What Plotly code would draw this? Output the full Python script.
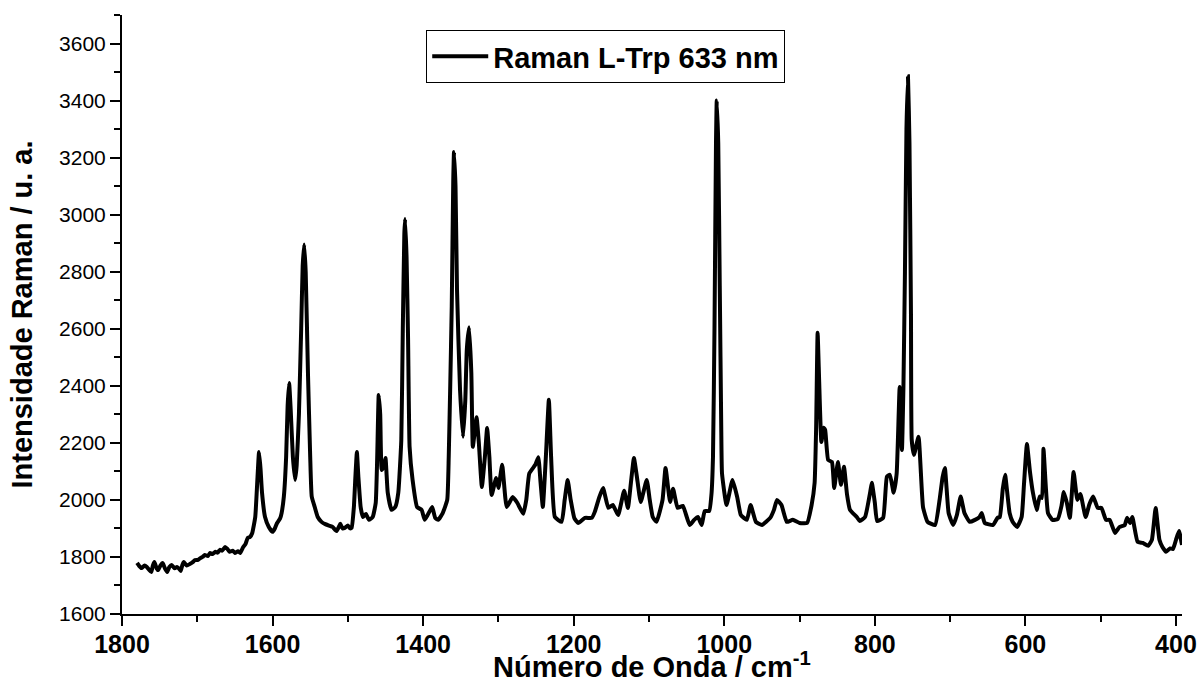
import plotly.graph_objects as go

# Raman shift (cm^-1)
wavenumber = [
    1780, 1777, 1774, 1770, 1767, 1764, 1761, 1759, 1757, 1754, 1752, 1749, 1746, 1743, 1740, 1737,
    1734, 1730, 1727, 1724, 1722, 1720, 1718, 1714, 1710, 1706, 1703, 1699, 1696, 1693, 1690, 1686,
    1683, 1680, 1676, 1673, 1670, 1667, 1663, 1660, 1657, 1653, 1650, 1646, 1643, 1639, 1636, 1633,
    1630, 1627, 1623, 1620, 1618, 1616, 1614, 1610, 1605, 1600, 1597, 1594, 1590, 1588, 1585, 1582,
    1580, 1578, 1576, 1573, 1570, 1568, 1565, 1562, 1560, 1558, 1556, 1553, 1550, 1548, 1544, 1540,
    1535, 1530, 1525, 1520, 1517, 1515, 1512, 1510, 1507, 1504, 1500, 1497, 1495, 1492, 1490, 1488,
    1486, 1483, 1480, 1476, 1472, 1467, 1463, 1461, 1459, 1457, 1455, 1452, 1450, 1447, 1442, 1437,
    1433, 1429, 1427, 1425, 1424, 1422, 1420, 1418, 1414, 1408, 1402, 1398, 1394, 1388, 1384, 1380,
    1374, 1368, 1366, 1364, 1362, 1360, 1359, 1357, 1355, 1351, 1347, 1344, 1342, 1339, 1336, 1334,
    1331, 1329, 1326, 1322, 1318, 1315, 1312, 1309, 1303, 1300, 1295, 1289, 1281, 1275, 1267, 1263,
    1259, 1251, 1247, 1244, 1241, 1237, 1233, 1230, 1225, 1216, 1212, 1208, 1204, 1199, 1194, 1185,
    1176, 1172, 1166, 1161, 1154, 1148, 1141, 1133, 1128, 1124, 1120, 1116, 1111, 1103, 1099, 1095,
    1090, 1082, 1078, 1072, 1068, 1062, 1055, 1046, 1040, 1035, 1030, 1026, 1020, 1017, 1015, 1013,
    1011, 1010, 1008, 1006, 1004, 1003, 997, 989, 983, 978, 970, 965, 958, 950, 939, 934,
    930, 924, 917, 909, 900, 890, 884, 880, 878, 876, 874, 871, 868, 866, 862, 857,
    854, 849, 845, 841, 837, 833, 824, 820, 813, 806, 804, 800, 797, 789, 784, 780,
    775, 771, 767, 764, 762, 760, 758, 756, 754, 752, 751, 748, 742, 736, 730, 720,
    714, 710, 707, 702, 696, 691, 686, 681, 674, 667, 661, 658, 654, 643, 637, 634,
    630, 627, 621, 617, 611, 605, 602, 598, 594, 590, 585, 581, 578, 576, 573, 570,
    564, 557, 552, 549, 545, 541, 536, 531, 527, 520, 515, 510, 504, 499, 493, 488,
    481, 475, 468, 465, 461, 458, 451, 444, 437, 432, 427, 422, 418, 413, 408, 404,
    400, 396, 392,
]

# Raman intensity (a.u.)
intensity = [
    1779, 1768, 1761, 1770, 1765, 1755, 1747, 1770, 1782, 1760, 1754, 1770, 1779, 1760, 1747, 1765,
    1772, 1760, 1765, 1758, 1751, 1770, 1782, 1770, 1775, 1782, 1789, 1790, 1796, 1800, 1807, 1803,
    1814, 1810, 1818, 1815, 1825, 1822, 1835, 1828, 1818, 1822, 1814, 1820, 1814, 1835, 1845, 1867,
    1870, 1884, 1940, 2080, 2168, 2110, 2025, 1940, 1905, 1888, 1900, 1919, 1935, 1954, 2012, 2150,
    2330, 2410, 2320, 2150, 2070, 2120, 2300, 2600, 2820, 2895, 2800, 2446, 2151, 2012, 1975, 1940,
    1923, 1915, 1910, 1905, 1895, 1891, 1905, 1916, 1900, 1902, 1910, 1900, 1902, 1975, 2080, 2168,
    2080, 1975, 1940, 1951, 1930, 1940, 1989, 2150, 2368, 2300, 2105, 2120, 2147, 2025, 1965, 1975,
    2025, 2210, 2600, 2930, 2985, 2850, 2561, 2186, 2070, 1975, 1965, 1930, 1947, 1975, 1937, 1930,
    1954, 2000, 2151, 2400, 2677, 3120, 3220, 3100, 2737, 2386, 2221, 2350, 2526, 2605, 2446, 2186,
    2250, 2290, 2200, 2045, 2150, 2252, 2150, 2017, 2077, 2042, 2123, 1975, 2010, 1990, 1951, 2000,
    2093, 2123, 2150, 2060, 1975, 2150, 2351, 2150, 1940, 1923, 2000, 2070, 2000, 1935, 1919, 1937,
    1937, 1958, 2010, 2042, 1972, 1982, 1947, 2032, 1972, 2060, 2147, 2080, 1993, 2070, 2000, 1940,
    1923, 2000, 2112, 1993, 2039, 1972, 1979, 1912, 1930, 1940, 1912, 1961, 1961, 2020, 2150, 2600,
    3250, 3400, 3250, 2750, 2250, 2093, 1982, 2070, 2012, 1947, 1930, 1982, 1923, 1912, 1937, 1965,
    2000, 1982, 1923, 1930, 1919, 1919, 1982, 2060, 2250, 2586, 2420, 2203, 2253, 2245, 2140, 2133,
    2042, 2133, 2053, 2116, 2020, 1965, 1940, 1926, 1940, 2030, 2060, 1990, 1926, 1937, 2081, 2088,
    2025, 2093, 2396, 2175, 2400, 2800, 3300, 3485, 3250, 2650, 2210, 2158, 2221, 1975, 1923, 1912,
    2000, 2080, 2112, 1954, 1912, 1947, 2012, 1954, 1923, 1930, 1940, 1954, 1919, 1912, 1937, 1940,
    2040, 2088, 1954, 1923, 1905, 1940, 2050, 2196, 2100, 2025, 1965, 2012, 2007, 2179, 2050, 1954,
    1930, 1933, 1980, 2028, 1990, 1937, 2098, 2000, 2021, 1940, 1985, 2012, 1972, 1972, 1930, 1930,
    1884, 1905, 1912, 1937, 1919, 1940, 1853, 1849, 1839, 1860, 1972, 1860, 1835, 1818, 1830, 1828,
    1860, 1891, 1842,
]

series_name = "Raman L-Trp 633 nm"
x_title = "Número de Onda / cm<sup>-1</sup>"
y_title = "Intensidade Raman / u. a."

FONT = "Arial, 'Liberation Sans', sans-serif"

fig = go.Figure()
fig.add_trace(go.Scatter(
    x=wavenumber, y=intensity, mode="lines", name=series_name,
    line=dict(color="black", width=4, shape="spline", smoothing=0.4),
))

fig.update_layout(
    width=1198, height=678,
    margin=dict(l=122, r=16, t=15, b=64),
    paper_bgcolor="white", plot_bgcolor="white",
    font=dict(family=FONT, color="black"),
    showlegend=True,
    legend=dict(
        x=0.287, y=0.975, xanchor="left", yanchor="top",
        bordercolor="black", borderwidth=1, bgcolor="white",
        font=dict(family=FONT, size=29, weight="bold", color="black"),
        itemwidth=56,
    ),
    annotations=[dict(
        text=x_title, xref="paper", yref="paper", x=0.5, y=-0.119,
        xanchor="center", yanchor="bottom", showarrow=False,
        font=dict(family=FONT, size=29, weight="bold", color="black"),
    )],
)

fig.update_xaxes(
    range=[1800, 392], dtick=200, tick0=0,
    showline=True, linecolor="black", linewidth=2, mirror=False,
    ticks="outside", ticklen=10, tickwidth=2, tickcolor="black",
    minor=dict(dtick=100, ticks="outside", ticklen=6, tickwidth=2, tickcolor="black"),
    showgrid=False, zeroline=False,
    tickfont=dict(family=FONT, size=25, weight="bold"),
    ticklabelstandoff=-3,
    automargin=False,
)
fig.update_yaxes(
    range=[1600, 3700], dtick=200, tick0=0,
    showline=True, linecolor="black", linewidth=2, mirror=False,
    ticks="outside", ticklen=10, tickwidth=2, tickcolor="black",
    minor=dict(dtick=100, ticks="outside", ticklen=6, tickwidth=2, tickcolor="black"),
    showgrid=False, zeroline=False,
    tickfont=dict(family=FONT, size=21),
    title=dict(text=y_title, font=dict(family=FONT, size=29, weight="bold"), standoff=18),
    automargin=False,
)

fig.write_html("out.html")
